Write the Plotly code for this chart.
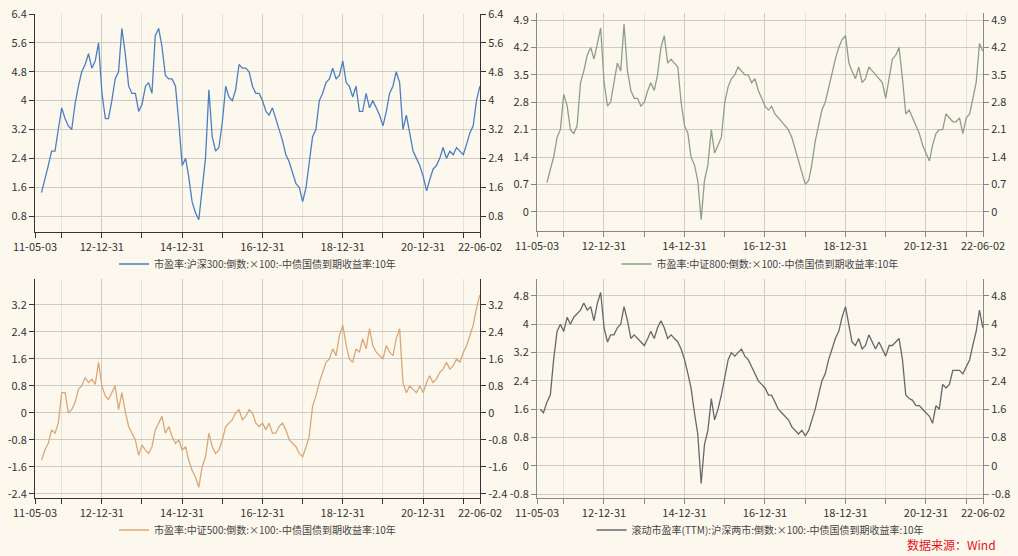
import plotly.graph_objects as go
import pandas as pd

# ---------------- data ----------------
MONTHS = pd.date_range("2011-05-01", "2022-06-01", freq="MS")

X_TICK_VALS = ["2011-05-03", "2012-12-31", "2014-12-31", "2016-12-31",
               "2018-12-31", "2020-12-31", "2022-06-02"]
X_TICK_TEXT = ["11-05-03", "12-12-31", "14-12-31", "16-12-31",
               "18-12-31", "20-12-31", "22-06-02"]
X_MINOR_VALS = ["2011-12-31", "2013-12-31", "2015-12-31", "2017-12-31",
                "2019-12-31", "2021-12-31"]

NAME_HS300 = "市盈率:沪深300:倒数:×100:-中债国债到期收益率:10年"
NAME_ZZ800 = "市盈率:中证800:倒数:×100:-中债国债到期收益率:10年"
NAME_ZZ500 = "市盈率:中证500:倒数:×100:-中债国债到期收益率:10年"
NAME_TTM = "滚动市盈率(TTM):沪深两市:倒数:×100:-中债国债到期收益率:10年"

HS300 = [1.45, 1.8, 2.2, 2.6, 2.6, 3.2, 3.8, 3.5, 3.3, 3.2,
         3.9, 4.4, 4.8, 5.0, 5.3, 4.9, 5.1, 5.6, 4.2, 3.5,
         3.5, 4.0, 4.6, 4.8, 6.0, 5.3, 4.4, 4.2, 4.2, 3.7,
         3.9, 4.4, 4.5, 4.2, 5.8, 6.0, 5.5, 4.7, 4.6, 4.6,
         4.4, 3.4, 2.2, 2.4, 1.9, 1.2, 0.9, 0.7, 1.5, 2.4,
         4.3, 3.0, 2.6, 2.7, 3.4, 4.4, 4.1, 4.0, 4.3, 5.0,
         4.9, 4.9, 4.8, 4.4, 4.2, 4.2, 4.0, 3.7, 3.6, 3.8,
         3.5, 3.2, 2.9, 2.5, 2.3, 2.0, 1.7, 1.6, 1.2, 1.6,
         2.2, 3.0, 3.2, 4.0, 4.2, 4.5, 4.6, 4.9, 4.6, 4.7,
         5.1, 4.5, 4.4, 4.1, 4.4, 3.7, 3.7, 4.2, 3.8, 4.0,
         3.8, 3.6, 3.3, 3.7, 4.2, 4.4, 4.8, 4.5, 3.2, 3.6,
         3.1, 2.6, 2.4, 2.2, 1.9, 1.5, 1.8, 2.1, 2.2, 2.4,
         2.7, 2.4, 2.6, 2.5, 2.7, 2.6, 2.5, 2.8, 3.1, 3.3,
         4.0, 4.4]

ZZ800 = [0.75, 1.1, 1.4, 1.9, 2.1, 3.0, 2.7, 2.1, 2.0, 2.2,
         3.3, 3.6, 4.0, 4.2, 3.9, 4.3, 4.7, 3.3, 2.7, 2.8,
         3.3, 3.8, 3.6, 4.8, 3.6, 3.1, 2.9, 2.9, 2.7, 2.8,
         3.1, 3.3, 3.1, 3.5, 4.2, 4.5, 3.8, 3.9, 3.8, 3.7,
         2.8, 2.2, 2.0, 1.4, 1.2, 0.8, -0.2, 0.8, 1.2, 2.1,
         1.5, 1.7, 1.9, 2.8, 3.2, 3.4, 3.5, 3.7, 3.6, 3.5,
         3.5, 3.3, 3.4, 3.1, 2.9, 2.7, 2.6, 2.7, 2.5, 2.4,
         2.3, 2.2, 2.1, 1.9, 1.6, 1.3, 1.0, 0.7, 0.8, 1.2,
         1.8, 2.2, 2.6, 2.8, 3.2, 3.6, 3.9, 4.2, 4.4, 4.5,
         3.8, 3.6, 3.4, 3.7, 3.3, 3.4, 3.7, 3.6, 3.5, 3.4,
         3.3, 2.9, 3.4, 3.9, 4.0, 4.2, 3.4, 2.5, 2.6, 2.4,
         2.2, 2.0, 1.7, 1.5, 1.3, 1.7, 2.0, 2.1, 2.1, 2.5,
         2.4, 2.3, 2.3, 2.4, 2.0, 2.4, 2.5, 2.9, 3.3, 4.3,
         4.1]

ZZ500 = [-1.4, -1.1, -0.9, -0.5, -0.6, -0.3, 0.6, 0.6, 0.0, 0.1,
         0.3, 0.7, 0.8, 1.05, 0.9, 1.0, 0.85, 1.5, 0.8, 0.5,
         0.4, 0.6, 0.8, 0.1, 0.6, 0.05, -0.4, -0.6, -0.8, -1.25,
         -0.95, -1.1, -1.2, -1.0, -0.5, -0.3, -0.1, -0.6, -0.4, -0.7,
         -0.9, -0.8, -1.1, -1.0, -1.4, -1.7, -1.9, -2.2, -1.6, -1.3,
         -0.6, -1.0, -1.2, -1.1, -0.8, -0.4, -0.3, -0.2, 0.0, 0.1,
         -0.2, -0.1, 0.1, 0.0, -0.3, -0.4, -0.3, -0.5, -0.3, -0.6,
         -0.6, -0.4, -0.3, -0.5, -0.8, -0.9, -1.0, -1.2, -1.3, -1.0,
         -0.7, 0.2, 0.5, 0.9, 1.2, 1.5, 1.6, 1.9, 1.7, 2.3,
         2.6, 2.0, 1.6, 1.5, 1.9, 1.8, 2.2, 1.9, 2.5, 2.0,
         1.8, 1.7, 1.6, 2.0, 1.8, 1.7, 2.2, 2.5, 0.9, 0.6,
         0.8, 0.7, 0.6, 0.8, 0.6, 0.9, 1.1, 0.9, 1.0, 1.2,
         1.3, 1.5, 1.3, 1.4, 1.6, 1.5, 1.8, 2.0, 2.3, 2.6,
         3.1, 3.5]

TTM = [1.6, 1.5, 1.8, 2.0, 3.0, 3.8, 4.0, 3.8, 4.2, 4.0,
       4.2, 4.3, 4.4, 4.6, 4.4, 4.5, 4.1, 4.6, 4.9, 3.9,
       3.5, 3.7, 3.7, 3.9, 4.0, 4.5, 4.1, 3.6, 3.7, 3.6,
       3.5, 3.4, 3.6, 3.8, 3.6, 3.9, 4.1, 3.9, 3.6, 3.7,
       3.6, 3.5, 3.3, 3.0, 2.6, 2.2, 1.5, 0.9, -0.5, 0.6,
       1.0, 1.9, 1.3, 1.6, 2.0, 2.5, 3.0, 3.2, 3.1, 3.2,
       3.3, 3.1, 3.0, 2.8, 2.6, 2.4, 2.3, 2.2, 2.0, 2.0,
       1.8, 1.6, 1.5, 1.4, 1.3, 1.1, 1.0, 0.9, 1.0, 0.85,
       1.0, 1.3, 1.6, 2.0, 2.4, 2.6, 3.0, 3.3, 3.6, 3.8,
       4.2, 4.5, 4.0, 3.5, 3.4, 3.6, 3.3, 3.4, 3.7, 3.5,
       3.3, 3.5, 3.3, 3.1, 3.4, 3.4, 3.5, 3.6, 3.0, 2.0,
       1.9, 1.85, 1.7, 1.7, 1.6, 1.5, 1.4, 1.2, 1.7, 1.6,
       2.3, 2.2, 2.3, 2.7, 2.7, 2.7, 2.6, 2.8, 3.0, 3.4,
       3.8, 4.4, 3.9]

Y1_TICKS = [0.8, 1.6, 2.4, 3.2, 4.0, 4.8, 5.6, 6.4]
Y1_TEXT = ["0.8", "1.6", "2.4", "3.2", "4", "4.8", "5.6", "6.4"]
Y2_TICKS = [0, 0.7, 1.4, 2.1, 2.8, 3.5, 4.2, 4.9]
Y2_TEXT = ["0", "0.7", "1.4", "2.1", "2.8", "3.5", "4.2", "4.9"]
Y3_TICKS = [-2.4, -1.6, -0.8, 0, 0.8, 1.6, 2.4, 3.2]
Y3_TEXT = ["-2.4", "-1.6", "-0.8", "0", "0.8", "1.6", "2.4", "3.2"]
Y4_TICKS = [-0.8, 0, 0.8, 1.6, 2.4, 3.2, 4.0, 4.8]
Y4_TEXT = ["-0.8", "0", "0.8", "1.6", "2.4", "3.2", "4", "4.8"]

SOURCE = "数据来源：Wind"

# ---------------- layout helpers ----------------
W, H = 1018, 556
BG = "#fdf8ee"
FONT = "Noto Sans CJK SC, Noto Sans, sans-serif"


def px_x(a, b):
    return [a / W, b / W]


def px_y(top, bottom):
    return [1 - bottom / H, 1 - top / H]


panels = [
    dict(name=NAME_HS300, vals=HS300, color="#4b7fc0", xd=px_x(35, 480), yd=px_y(14, 232),
         yr=[0.36, 6.4], tv=Y1_TICKS, tt=Y1_TEXT, ly=1 - 264 / H, axc="#333333"),
    dict(name=NAME_ZZ800, vals=ZZ800, color="#8d9f8a", xd=px_x(537, 983), yd=px_y(13, 231),
         yr=[-0.49, 5.08], tv=Y2_TICKS, tt=Y2_TEXT, ly=1 - 264 / H, axc="#888888"),
    dict(name=NAME_ZZ500, vals=ZZ500, color="#d8a878", xd=px_x(35, 480), yd=px_y(279, 498),
         yr=[-2.52, 3.97], tv=Y3_TICKS, tt=Y3_TEXT, ly=1 - 530 / H, axc="#333333"),
    dict(name=NAME_TTM, vals=TTM, color="#65686d", xd=px_x(537, 983), yd=px_y(279, 498),
         yr=[-0.91, 5.28], tv=Y4_TICKS, tt=Y4_TEXT, ly=1 - 530 / H, axc="#888888"),
]

fig = go.Figure()
layout = {}
for i, p in enumerate(panels):
    xs = "" if i == 0 else str(i + 1)
    yl = "" if i == 0 else str(2 * i + 1)
    yr_ = str(2 * i + 2)
    lg = "legend" if i == 0 else f"legend{i + 1}"
    dates = MONTHS[-len(p["vals"]):]
    fig.add_trace(go.Scatter(
        x=dates, y=p["vals"], mode="lines", name=p["name"],
        line=dict(color=p["color"], width=1.3),
        xaxis="x" + xs, yaxis="y" + yl, legend=lg, hoverinfo="skip"))
    fig.add_trace(go.Scatter(
        x=dates, y=p["vals"], mode="lines", showlegend=False, opacity=0,
        line=dict(width=0), xaxis="x" + xs, yaxis="y" + yr_, hoverinfo="skip"))

    tickfont = dict(size=11, color="#333333", family=FONT)
    layout["xaxis" + xs] = dict(
        domain=p["xd"], anchor="y" + yl, type="date",
        range=["2011-05-03", "2022-06-02"], automargin=False,
        tickmode="array", tickvals=X_TICK_VALS, ticktext=X_TICK_TEXT,
        ticks="outside", ticklen=5, tickcolor=p["axc"],
        showline=True, linecolor=p["axc"], linewidth=1,
        showgrid=True, gridcolor="#cfcbc3", gridwidth=1,
        minor=dict(tickmode="array", tickvals=X_MINOR_VALS, showgrid=True,
                   gridcolor="#e6e2da", ticks="outside", ticklen=5,
                   tickcolor=p["axc"]),
        tickfont=tickfont, zeroline=False, fixedrange=True)
    layout["yaxis" + yl] = dict(
        domain=p["yd"], anchor="x" + xs, range=p["yr"], automargin=False,
        tickmode="array", tickvals=p["tv"], ticktext=p["tt"],
        ticks="outside", ticklen=5, tickcolor=p["axc"],
        showline=True, linecolor=p["axc"], linewidth=1,
        showgrid=True, gridcolor="#cfcbc3", gridwidth=1,
        zeroline=False, tickfont=tickfont, fixedrange=True)
    layout["yaxis" + yr_] = dict(
        overlaying="y" + yl, anchor="x" + xs, side="right", range=p["yr"],
        automargin=False,
        tickmode="array", tickvals=p["tv"], ticktext=p["tt"],
        ticks="outside", ticklen=5, tickcolor=p["axc"],
        showline=True, linecolor=p["axc"], linewidth=1,
        showgrid=False, zeroline=False, tickfont=tickfont, fixedrange=True)
    layout[lg] = dict(
        x=(p["xd"][0] + p["xd"][1]) / 2, xanchor="center",
        y=p["ly"], yanchor="middle", orientation="h",
        bgcolor="rgba(0,0,0,0)", itemwidth=30,
        font=dict(size=10, color="#444444", family=FONT))

fig.update_layout(
    width=W, height=H, autosize=False,
    margin=dict(l=0, r=0, t=0, b=0, pad=0, autoexpand=False),
    paper_bgcolor=BG, plot_bgcolor=BG,
    font=dict(family=FONT, size=11, color="#333333"),
    showlegend=True,
    annotations=[dict(text=SOURCE, xref="paper", yref="paper",
                      x=998 / W, y=1 - 544 / H, xanchor="right", yanchor="middle",
                      showarrow=False, font=dict(size=12, color="#e0121b", family=FONT))],
    **layout)

fig.write_html("out.html", config={"displayModeBar": False},
               post_script="document.body.style.margin='0px';")
